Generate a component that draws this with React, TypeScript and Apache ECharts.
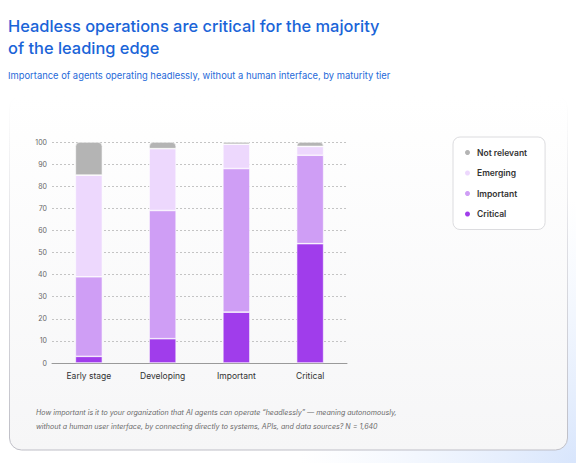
import React, { useEffect, useRef } from "react";
import * as echarts from "echarts";

const categories = ["Early stage", "Developing", "Important", "Critical"];
const critical = [3, 11, 23, 54];
const important = [36, 58, 65, 40];
const emerging = [46, 28, 11, 4];
const notRelevant = [15, 3, 1, 2];
const yTicks = [0, 10, 20, 30, 40, 50, 60, 70, 80, 90, 100];

const titleText = "Headless operations are critical for the majority\nof the leading edge";
const subtitleText = "Importance of agents operating headlessly, without a human interface, by maturity tier";
const noteLine1 = "How important is it to your organization that AI agents can operate \u201cheadlessly\u201d \u2014 meaning autonomously,";
const noteLine2 = "without a human user interface, by connecting directly to systems, APIs, and data sources? N = 1,640";

const COLORS = {
  notRelevant: "#b4b4b4",
  emerging: "#edd8fd",
  important: "#cf9ef5",
  critical: "#a03deb",
};

export default function App() {
  const ref = useRef<HTMLDivElement>(null);
  useEffect(() => {
    if (!ref.current) return;
    const chart = echarts.init(ref.current, null, { renderer: "svg" });
    const font = "Inter, 'Noto Sans', sans-serif";
    const barBase = {
      type: "bar",
      stack: "total",
      barWidth: 27,
      itemStyle: { borderColor: "#ffffff", borderWidth: 0.6 },
    };
    chart.setOption({
      animation: false,
      backgroundColor: "#ffffff",
      textStyle: { fontFamily: font },
      title: [
        {
          text: titleText,
          left: 8,
          top: 15,
          padding: 0,
          textStyle: { fontFamily: font, fontSize: 16.4, fontWeight: 500, color: "#1a64d8", lineHeight: 22 },
        },
        {
          text: subtitleText,
          left: 8,
          top: 71,
          padding: 0,
          textStyle: { fontFamily: font, fontSize: 9.4, fontWeight: 400, color: "#1f6ad9" },
        },
      ],
      graphic: [
        {
          type: "rect",
          z: -20,
          silent: true,
          shape: { x: 300, y: 200, width: 276, height: 263 },
          style: {
            fill: new echarts.graphic.RadialGradient(1, 1, 1, [
              { offset: 0, color: "rgba(214,228,252,0.95)" },
              { offset: 1, color: "rgba(232,240,253,0)" },
            ]),
          },
        },
        {
          type: "rect",
          z: -10,
          silent: true,
          shape: { x: 9.5, y: 96, width: 558, height: 354, r: 12 },
          style: {
            fill: new echarts.graphic.LinearGradient(0, 0, 0, 1, [
              { offset: 0, color: "#ffffff" },
              { offset: 1, color: "#f6f6f7" },
            ]),
            stroke: new echarts.graphic.LinearGradient(0, 0, 0, 1, [
              { offset: 0, color: "rgba(205,205,212,0)" },
              { offset: 0.4, color: "rgba(205,205,212,0.6)" },
              { offset: 1, color: "rgba(190,190,198,1)" },
            ]),
            lineWidth: 1,
          },
        },
        {
          type: "text",
          left: 36,
          top: 409,
          style: { text: noteLine1, fill: "#6b6b6b", font: "italic 7.1px " + font },
        },
        {
          type: "text",
          left: 36,
          top: 423,
          style: { text: noteLine2, fill: "#6b6b6b", font: "italic 7.1px " + font },
        },
      ],
      legend: {
        orient: "vertical",
        left: 453,
        top: 137,
        icon: "circle",
        itemWidth: 7,
        itemHeight: 7,
        itemGap: 11.5,
        padding: [11, 18, 11, 10],
        backgroundColor: "#ffffff",
        borderColor: "#dcdcdf",
        borderWidth: 1,
        borderRadius: 7,
        data: ["Not relevant", "Emerging", "Important", "Critical"],
        textStyle: { fontFamily: font, fontSize: 8.5, fontWeight: 600, color: "#333333", padding: [0, 0, 0, 1] },
      },
      grid: { left: 52, right: 229, top: 142, bottom: 100, containLabel: false },
      xAxis: {
        type: "category",
        data: categories,
        axisLine: { lineStyle: { color: "#9a9a9a", width: 1 } },
        axisTick: { show: false },
        axisLabel: { color: "#333333", fontSize: 8.5, margin: 8, fontFamily: font },
      },
      yAxis: {
        type: "value",
        min: 0,
        max: 100,
        interval: 10,
        axisLine: { show: false },
        axisTick: { show: false },
        axisLabel: {
          color: "#666666",
          fontSize: 7,
          margin: 5,
          fontFamily: font,
          formatter: (v: number) => (yTicks.includes(v) ? String(v) : ""),
        },
        splitLine: { lineStyle: { color: "#c4c4c4", type: [2, 2], width: 1 } },
      },
      series: [
        { ...barBase, name: "Critical", data: critical, itemStyle: { ...barBase.itemStyle, color: COLORS.critical } },
        { ...barBase, name: "Important", data: important, itemStyle: { ...barBase.itemStyle, color: COLORS.important } },
        { ...barBase, name: "Emerging", data: emerging, itemStyle: { ...barBase.itemStyle, color: COLORS.emerging } },
        {
          ...barBase,
          name: "Not relevant",
          data: notRelevant,
          itemStyle: { ...barBase.itemStyle, color: COLORS.notRelevant, borderRadius: [4, 4, 0, 0] },
        },
      ],
    });
    return () => chart.dispose();
  }, []);
  return <div ref={ref} style={{ width: 576, height: 463, position: "absolute", left: 0, top: 0 }} />;
}
